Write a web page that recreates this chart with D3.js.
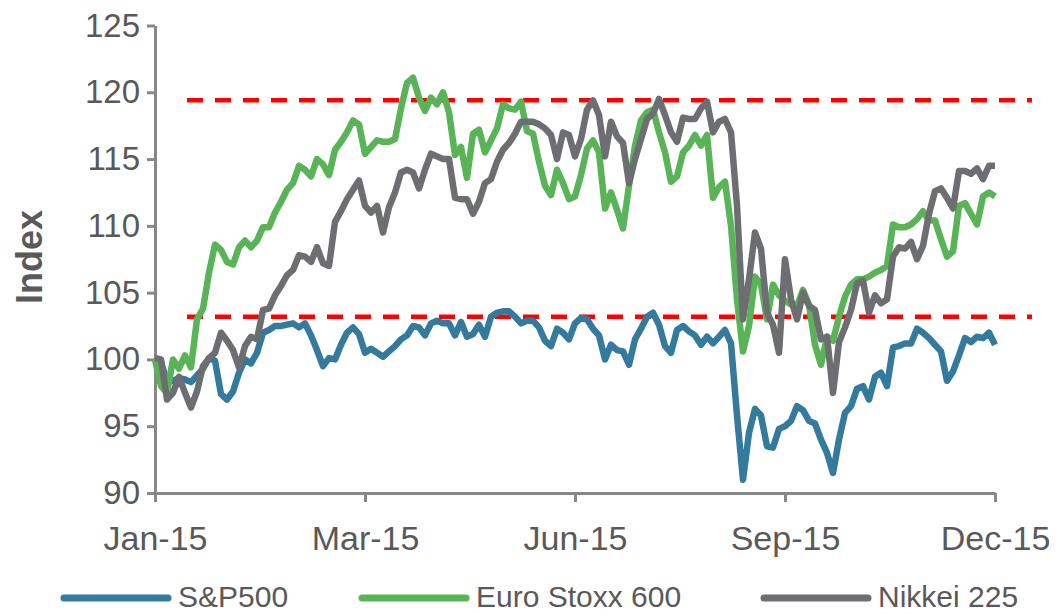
<!DOCTYPE html>
<html>
<head>
<meta charset="utf-8">
<script src="https://cdn.jsdelivr.net/npm/d3@7"></script>
<style>
  body { margin: 0; background: #fff; }
  svg text { font-family: Arial, "Liberation Sans", sans-serif; fill: #595959; }
</style>
</head>
<body>
<svg id="chart" width="1061" height="615"></svg>
<script>
// index levels, rebased to 100 at the start of 2015 (one point every few trading days)
var sp500 = [
  100.0, 99.8, 98.3, 98.4, 98.6, 98.5, 98.3, 98.8, 99.3, 100.1,
  99.9, 97.4, 97.0, 97.6, 99.0, 100.0, 99.7, 100.5, 102.0, 102.2,
  102.5, 102.5, 102.6, 102.7, 102.4, 102.7, 101.8, 100.7, 99.5, 100.1,
  100.0, 101.1, 102.0, 102.4, 101.9, 100.5, 100.8, 100.5, 100.2, 100.6,
  101.0, 101.5, 101.8, 102.5, 102.4, 101.8, 102.7, 102.9, 102.7, 102.7,
  101.8, 102.8, 101.7, 101.9, 102.6, 101.7, 103.2, 103.5, 103.6, 103.6,
  103.2, 102.7, 102.9, 102.9, 102.4, 101.4, 101.0, 102.3, 102.0, 101.5,
  102.7, 103.1, 103.0, 102.3, 101.8, 100.0, 101.1, 100.7, 100.6, 99.6,
  101.5, 102.3, 103.2, 103.5, 102.6, 101.0, 100.5, 102.2, 102.5, 102.1,
  101.8, 101.1, 101.7, 101.2, 101.7, 102.2, 101.2, 95.8, 91.0, 94.5,
  96.3, 95.8, 93.5, 93.4, 94.8, 95.0, 95.4, 96.5, 96.2, 95.4,
  95.2, 94.0, 93.0, 91.5, 94.0, 96.0, 96.5, 97.8, 98.0, 97.0,
  98.7, 99.0, 98.0, 100.9, 101.0, 101.2, 101.2, 102.3, 102.0, 101.6,
  101.1, 100.6, 98.4, 99.1, 100.3, 101.6, 101.3, 101.7, 101.6, 102.0, 101.1
];
var stoxx600 = [
  100.0, 98.0, 97.5, 100.0, 99.3, 100.3, 99.4, 103.0, 103.8, 106.5,
  108.6, 108.2, 107.3, 107.1, 108.4, 108.9, 108.4, 108.9, 109.9, 109.9,
  111.0, 111.8, 112.7, 113.2, 114.5, 114.2, 113.7, 115.0, 114.6, 113.8,
  115.7, 116.3, 117.0, 117.9, 117.6, 115.4, 115.9, 116.4, 116.3, 116.3,
  116.5, 118.8, 120.7, 121.1, 119.6, 118.6, 119.6, 119.1, 120.0, 118.5,
  115.3, 115.9, 113.6, 116.9, 117.2, 115.5, 116.4, 117.3, 119.1, 118.8,
  118.7, 119.3, 117.1, 116.9, 114.8, 113.0, 112.3, 114.2, 113.2, 112.0,
  112.2, 113.8, 115.8, 116.4, 115.5, 111.3, 112.5, 111.2, 109.8, 113.0,
  116.0, 117.9, 118.5, 118.7, 117.0, 115.5, 113.3, 113.7, 115.5, 116.0,
  116.8, 116.0, 116.8, 112.1, 112.9, 113.3, 110.0, 104.5, 100.6, 102.5,
  106.2, 105.6, 103.0, 105.6, 104.8, 104.4, 104.1, 104.0, 105.2, 104.1,
  101.1, 99.6, 101.7, 101.4, 103.2, 104.7, 105.6, 106.0, 106.0, 106.2,
  106.5, 106.7, 107.0, 110.1, 109.9, 109.9, 110.1, 110.5, 111.1, 110.4,
  110.4, 109.0, 107.7, 108.1, 111.5, 111.7, 110.9, 110.1, 112.2, 112.5, 112.2
];
var nikkei225 = [
  100.1, 100.0, 97.0, 97.5, 98.7, 97.5, 96.4, 97.6, 99.5, 100.1,
  100.5, 102.0, 101.4, 100.7, 99.4, 101.0, 101.7, 101.5, 103.7, 103.8,
  104.8, 105.5, 106.3, 106.7, 107.8, 107.7, 107.3, 108.4, 107.2, 107.0,
  110.3, 111.1, 112.0, 112.7, 113.4, 111.5, 111.0, 111.5, 109.5, 111.4,
  112.5, 114.0, 114.2, 114.0, 112.8, 114.2, 115.4, 115.2, 115.0, 115.0,
  112.1, 112.0, 112.0, 110.9, 111.8, 113.2, 113.5, 114.8, 115.7, 116.2,
  116.9, 117.8, 117.8, 117.8, 117.6, 117.3, 116.8, 115.0, 117.0, 116.8,
  115.2, 116.5, 118.7, 119.4, 118.3, 115.2, 117.8, 116.7, 116.2, 113.2,
  115.0, 116.5, 118.0, 118.4, 119.5, 118.3, 117.0, 116.3, 118.1, 118.0,
  118.0, 118.8, 119.3, 117.0, 117.8, 118.0, 117.0, 111.5, 103.0, 106.0,
  109.5, 108.3, 103.5, 102.6, 100.5, 107.5, 104.5, 103.0, 105.0, 104.0,
  103.7, 101.5, 101.7, 97.5, 101.3, 102.4, 103.7, 105.7, 105.9, 103.5,
  104.8, 104.2, 104.5, 107.7, 108.4, 108.3, 108.8, 107.5, 108.5, 110.9,
  112.6, 112.8, 112.1, 111.3, 114.1, 114.1, 113.9, 114.3, 113.5, 114.5, 114.5
];

var seriesNames = ["S&P500", "Euro Stoxx 600", "Nikkei 225"];
var tickLabels = ["Jan-15", "Mar-15", "Jun-15", "Sep-15", "Dec-15"];
var tickIndex = [0, 35, 70, 105, 140];
var yTicks = [90, 95, 100, 105, 110, 115, 120, 125];
var refLevels = [119.4, 103.2];

var colors = ["#347a9c", "#59b357", "#6d6e71"];
var allSeries = [sp500, stoxx600, nikkei225];

var svg = d3.select("#chart");

var x = d3.scaleLinear().domain([0, sp500.length - 1]).range([155, 995]);
var y = d3.scaleLinear().domain([90, 125]).range([493, 25.5]);

// reference lines (dashed red)
svg.selectAll(".ref")
    .data(refLevels)
    .enter().append("line")
    .attr("class", "ref")
    .attr("x1", 187).attr("x2", 1032)
    .attr("y1", function(d) { return y(d); })
    .attr("y2", function(d) { return y(d); })
    .attr("stroke", "#ff0000")
    .attr("stroke-width", 4.5)
    .attr("stroke-dasharray", "16,12");

// y axis
var yAxis = svg.append("g")
    .attr("transform", "translate(155,0)")
    .call(d3.axisLeft(y).tickValues(yTicks).tickSize(8).tickSizeOuter(0).tickPadding(7));

// x axis
var xAxis = svg.append("g")
    .attr("transform", "translate(0,493)")
    .call(d3.axisBottom(x).tickValues(tickIndex)
          .tickFormat(function(d, i) { return tickLabels[i]; })
          .tickSize(9).tickSizeOuter(0).tickPadding(24));

[yAxis, xAxis].forEach(function(a) {
    a.select(".domain").attr("stroke", "#878787").attr("stroke-width", 3);
    a.selectAll(".tick line").attr("stroke", "#878787").attr("stroke-width", 3);
    a.selectAll("text").attr("font-size", 34).attr("fill", "#595959")
        .style("font-family", "Arial, 'Liberation Sans', sans-serif");
});
yAxis.selectAll("text").attr("font-size", 33);

// series lines
var line = d3.line()
    .x(function(d, i) { return x(i); })
    .y(function(d) { return y(d); });

svg.selectAll(".series")
    .data(allSeries)
    .enter().append("path")
    .attr("class", "series")
    .attr("d", line)
    .attr("fill", "none")
    .attr("stroke", function(d, i) { return colors[i]; })
    .attr("stroke-width", 6.5)
    .attr("stroke-linejoin", "round");

// axis title
svg.append("text")
    .attr("transform", "translate(29,257) rotate(-90)")
    .attr("text-anchor", "middle")
    .attr("dominant-baseline", "central")
    .attr("font-size", 36)
    .attr("font-weight", "bold")
    .text("Index");

// legend
var legendX = [64, 362, 764];
var lg = svg.selectAll(".legend")
    .data(seriesNames)
    .enter().append("g")
    .attr("class", "legend")
    .attr("transform", function(d, i) { return "translate(" + legendX[i] + ",598)"; });

lg.append("line")
    .attr("x1", 0).attr("x2", 104)
    .attr("stroke", function(d, i) { return colors[i]; })
    .attr("stroke-width", 7)
    .attr("stroke-linecap", "round");

lg.append("text")
    .attr("x", 114)
    .attr("y", 9)
    .attr("font-size", 30)
    .text(function(d) { return d; });
</script>
</body>
</html>
